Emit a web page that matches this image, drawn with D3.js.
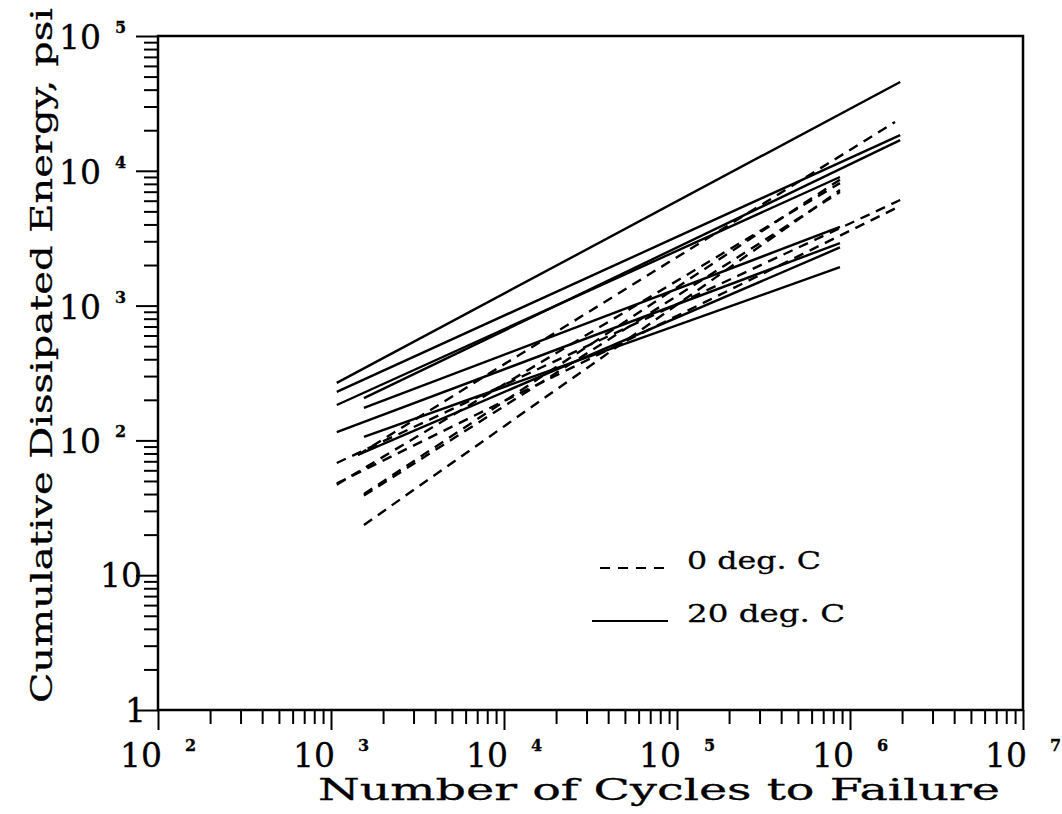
<!DOCTYPE html>
<html>
<head>
<meta charset="utf-8">
<script src="https://cdn.jsdelivr.net/npm/d3@7"></script>
<style>
  body { margin: 0; background: #fff; }
  text { font-family: "DejaVu Serif", serif; fill: #000; stroke: #000; stroke-width: 0.3; }
</style>
</head>
<body>
<div id="chart"></div>
<script>
// decades on each axis
const xExps = [2, 3, 4, 5, 6, 7]
const yExps = [0, 1, 2, 3, 4, 5]

// fitted lines: [N start, energy start, N end, energy end]
const solid20C = [
  [1080, 267, 1.95e6, 45600],
  [1080, 229, 1.95e6, 18400],
  [1550, 206, 1.95e6, 16900],
  [1080, 183, 8.75e5, 9000],
  [1080, 115, 8.75e5, 2910],
  [1550, 174, 8.75e5, 3830],
  [1550, 106, 8.75e5, 1930],
  [1430, 78, 8.75e5, 2700]
]
const dashed0C = [
  [1080, 68, 1.95e6, 6070],
  [1080, 48, 1.95e6, 5480],
  [1080, 47, 8.75e5, 8100],
  [1550, 40, 8.75e5, 8600],
  [1550, 39, 8.75e5, 6960],
  [1550, 23.6, 8.75e5, 7200],
  [1430, 78, 1.82e6, 23000]
]

const legendItems = [
  { label: '0 deg. C', dash: '10,8', x0: 600, len: 134 },
  { label: '20 deg. C', dash: null, x0: 592, len: 158 }
]

const params = {
  width: 1062,
  height: 814,
  left: 158,
  right: 1023,
  top: 36,
  bottom: 710
}

const svg = d3.select('#chart')
  .append('svg')
  .attr('width', params.width)
  .attr('height', params.height)

const x = d3.scaleLog().domain([1e2, 1e7]).range([params.left, params.right])
const y = d3.scaleLog().domain([1, 1e5]).range([params.bottom, params.top])

// minor ticks 2..9 in every decade
const minorX = []
xExps.slice(0, -1).forEach(e => { for (let k = 2; k <= 9; k++) minorX.push(k * Math.pow(10, e)) })
const minorY = []
yExps.slice(0, -1).forEach(e => { for (let k = 2; k <= 9; k++) minorY.push(k * Math.pow(10, e)) })

function styleAxis(g) {
  g.select('.domain').remove()
  g.selectAll('line').attr('stroke', '#000').attr('stroke-width', 2)
}

svg.append('g')
  .attr('transform', `translate(0,${params.bottom})`)
  .call(d3.axisBottom(x).tickValues(minorX).tickSize(14).tickFormat(''))
  .call(styleAxis)
svg.append('g')
  .attr('transform', `translate(0,${params.bottom})`)
  .call(d3.axisBottom(x).tickValues(xExps.map(e => Math.pow(10, e))).tickSize(20).tickFormat(''))
  .call(styleAxis)
svg.append('g')
  .attr('transform', `translate(${params.left},0)`)
  .call(d3.axisLeft(y).tickValues(minorY).tickSize(14).tickFormat(''))
  .call(styleAxis)
svg.append('g')
  .attr('transform', `translate(${params.left},0)`)
  .call(d3.axisLeft(y).tickValues(yExps.map(e => Math.pow(10, e))).tickSize(22).tickFormat(''))
  .call(styleAxis)

// frame
svg.append('rect')
  .attr('x', params.left)
  .attr('y', params.top)
  .attr('width', params.right - params.left)
  .attr('height', params.bottom - params.top)
  .attr('fill', 'none')
  .attr('stroke', '#000')
  .attr('stroke-width', 2.5)

// x tick labels: 10 with a raised exponent
const xLab = svg.append('g')
xExps.forEach(e => {
  const px = x(Math.pow(10, e))
  xLab.append('text')
    .attr('x', px + 4).attr('y', 767)
    .attr('text-anchor', 'end')
    .attr('font-size', 33)
    .text('10')
  xLab.append('text')
    .attr('x', px + 27).attr('y', 751)
    .attr('font-size', 16)
    .attr('font-weight', 'bold')
    .text(e)
})

// y tick labels
const yLab = svg.append('g')
yExps.forEach(e => {
  const py = y(Math.pow(10, e))
  if (e === 0) {
    yLab.append('text').attr('x', 146).attr('y', py + 12)
      .attr('text-anchor', 'end').attr('font-size', 33).text('1')
  } else if (e === 1) {
    yLab.append('text').attr('x', 142).attr('y', py + 12)
      .attr('text-anchor', 'end').attr('font-size', 33).text('10')
  } else {
    yLab.append('text').attr('x', 101).attr('y', py + 13)
      .attr('text-anchor', 'end').attr('font-size', 33).text('10')
    yLab.append('text').attr('x', 115).attr('y', py - 3)
      .attr('font-size', 16).attr('font-weight', 'bold').text(e)
  }
})

// axis titles, stretched to the wide face of the original
svg.append('text')
  .attr('x', 318).attr('y', 800)
  .attr('font-size', 30)
  .attr('textLength', 682)
  .attr('lengthAdjust', 'spacingAndGlyphs')
  .text('Number of Cycles to Failure')

svg.append('text')
  .attr('transform', 'translate(52,703) rotate(-90)')
  .attr('font-size', 30)
  .attr('textLength', 695)
  .attr('lengthAdjust', 'spacingAndGlyphs')
  .text('Cumulative Dissipated Energy, psi')

// data lines
const line = d3.line()
  .x(d => x(d[0]))
  .y(d => y(d[1]))

const toPts = r => [[r[0], r[1]], [r[2], r[3]]]

svg.append('g')
  .selectAll('path')
  .data(solid20C)
  .enter()
  .append('path')
  .attr('d', d => line(toPts(d)))
  .attr('fill', 'none')
  .attr('stroke', '#000')
  .attr('stroke-width', 2.4)

svg.append('g')
  .selectAll('path')
  .data(dashed0C)
  .enter()
  .append('path')
  .attr('d', d => line(toPts(d)))
  .attr('fill', 'none')
  .attr('stroke', '#000')
  .attr('stroke-width', 2.4)
  .attr('stroke-dasharray', '10,7')

// legend
const legend = svg.append('g')
legendItems.forEach((d, i) => {
  const ly = 568 + i * 53
  legend.append('line')
    .attr('x1', d.x0).attr('x2', 668)
    .attr('y1', ly).attr('y2', ly)
    .attr('stroke', '#000')
    .attr('stroke-width', 2.2)
    .attr('stroke-dasharray', d.dash)
  legend.append('text')
    .attr('x', 687).attr('y', ly + 1)
    .attr('font-size', 25)
    .attr('textLength', d.len)
    .attr('lengthAdjust', 'spacingAndGlyphs')
    .text(d.label)
})
</script>
</body>
</html>
